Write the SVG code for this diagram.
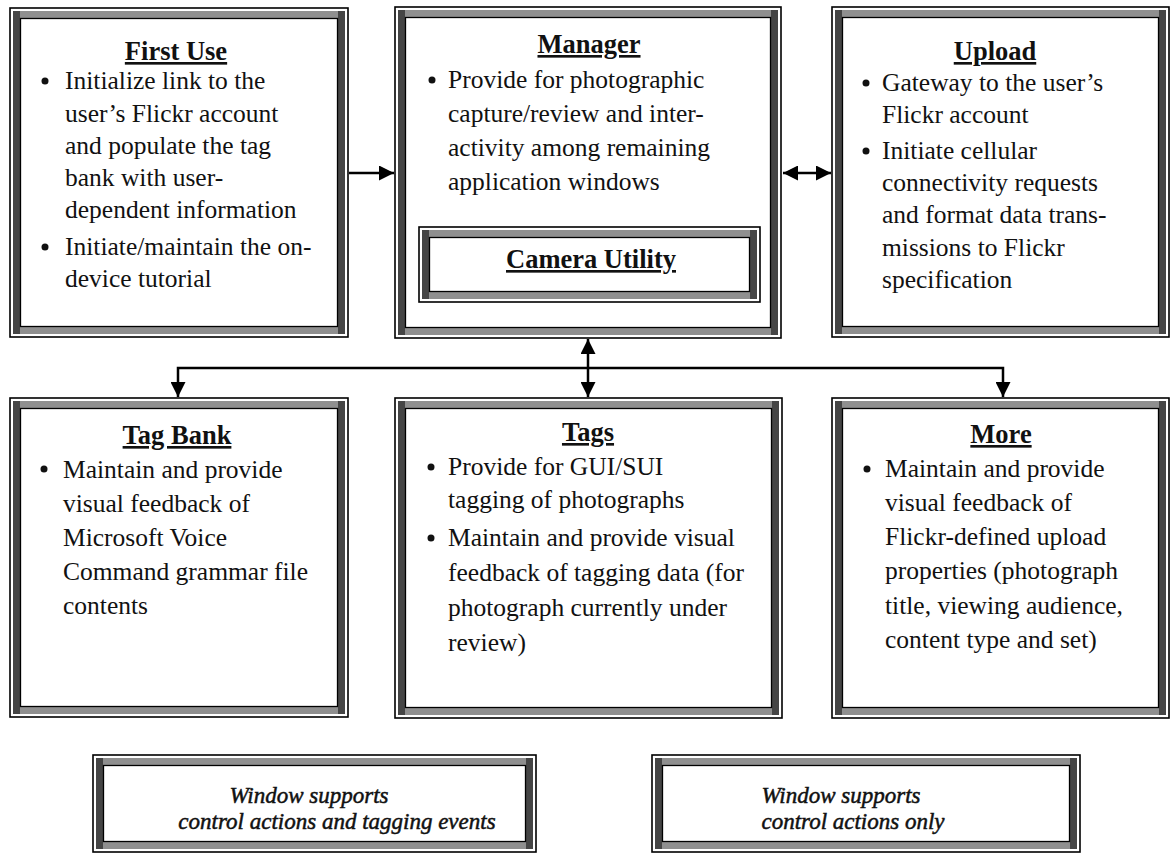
<svg xmlns="http://www.w3.org/2000/svg" width="1172" height="854" viewBox="0 0 1172 854">
<style>
.o{fill:#fff;stroke:#000;stroke-width:1.6}
.tb{fill:none;stroke:#8f8f8f;stroke-width:7}
.sd{fill:#454545}
.in{fill:none;stroke:#000;stroke-width:1.3}
.t{font-family:"Liberation Serif","Times New Roman",serif;font-size:25.5px;fill:#111}
.h{font-weight:bold;font-size:26.5px;text-decoration:underline;text-anchor:middle}
.leg{font-family:"Liberation Serif","Times New Roman",serif;font-style:italic;font-size:23px;text-anchor:middle;fill:#111;stroke:#111;stroke-width:0.5}
.b{fill:#111}
.c{stroke:#000;stroke-width:2.5;fill:none}
</style>
<defs>
<marker id="ah" viewBox="0 0 10 10" refX="10" refY="5" markerWidth="15" markerHeight="15" markerUnits="userSpaceOnUse" orient="auto-start-reverse">
<path d="M0,0 L10,5 L0,10 z" fill="#000"/>
</marker>
</defs>

<g id="connectors">
<path class="c" d="M349,173 H394" marker-end="url(#ah)"/>
<path class="c" d="M783,173 H831" marker-start="url(#ah)" marker-end="url(#ah)"/>
<path class="c" d="M588,339 V397" marker-start="url(#ah)" marker-end="url(#ah)"/>
<path class="c" d="M178,397 V368 H1003 V397" marker-start="url(#ah)" marker-end="url(#ah)"/>
</g>

<g id="firstUse">
<rect class="o" x="10" y="8" width="338" height="329"/>
<rect class="tb" x="16.5" y="14.5" width="325" height="316"/>
<rect class="sd" x="13" y="11" width="7" height="323"/>
<rect class="sd" x="338" y="11" width="7" height="323"/>
<rect class="in" x="20.5" y="18.5" width="317" height="308"/>
<text class="t h" x="176" y="60">First Use</text>
<circle class="b" cx="45" cy="81" r="3.5"/>
<circle class="b" cx="45" cy="247" r="3.5"/>
<text class="t" x="65" y="89">Initialize link to the</text>
<text class="t" x="65" y="122">user’s Flickr account</text>
<text class="t" x="65" y="154">and populate the tag</text>
<text class="t" x="65" y="186">bank with user-</text>
<text class="t" x="65" y="218">dependent information</text>
<text class="t" x="65" y="255">Initiate/maintain the on-</text>
<text class="t" x="65" y="287">device tutorial</text>
</g>

<g id="manager">
<rect class="o" x="395" y="7" width="386" height="331"/>
<rect class="tb" x="401.5" y="13.5" width="373" height="318"/>
<rect class="sd" x="398" y="10" width="7" height="325"/>
<rect class="sd" x="771" y="10" width="7" height="325"/>
<rect class="in" x="405.5" y="17.5" width="365" height="310"/>
<text class="t h" x="589" y="53">Manager</text>
<circle class="b" cx="432" cy="80" r="3.5"/>
<text class="t" x="448" y="88">Provide for photographic</text>
<text class="t" x="448" y="122">capture/review and inter-</text>
<text class="t" x="448" y="156">activity among remaining</text>
<text class="t" x="448" y="190">application windows</text>
</g>

<g id="cameraUtility">
<rect class="o" x="419" y="227" width="341" height="75"/>
<rect class="tb" x="425.5" y="233.5" width="328" height="62"/>
<rect class="sd" x="422" y="230" width="7" height="69"/>
<rect class="sd" x="750" y="230" width="7" height="69"/>
<rect class="in" x="429.5" y="237.5" width="320" height="54"/>
<text class="t h" x="591" y="268">Camera Utility</text>
</g>

<g id="upload">
<rect class="o" x="832" y="7" width="337" height="330"/>
<rect class="tb" x="838.5" y="13.5" width="324" height="317"/>
<rect class="sd" x="835" y="10" width="7" height="324"/>
<rect class="sd" x="1159" y="10" width="7" height="324"/>
<rect class="in" x="842.5" y="17.5" width="316" height="309"/>
<text class="t h" x="995" y="60">Upload</text>
<circle class="b" cx="866" cy="83" r="3.5"/>
<circle class="b" cx="866" cy="151" r="3.5"/>
<text class="t" x="882" y="91">Gateway to the user’s</text>
<text class="t" x="882" y="123">Flickr account</text>
<text class="t" x="882" y="159">Initiate cellular</text>
<text class="t" x="882" y="191">connectivity requests</text>
<text class="t" x="882" y="223">and format data trans-</text>
<text class="t" x="882" y="256">missions to Flickr</text>
<text class="t" x="882" y="288">specification</text>
</g>

<g id="tagBank">
<rect class="o" x="10" y="398" width="338" height="319"/>
<rect class="tb" x="16.5" y="404.5" width="325" height="306"/>
<rect class="sd" x="13" y="401" width="7" height="313"/>
<rect class="sd" x="338" y="401" width="7" height="313"/>
<rect class="in" x="20.5" y="408.5" width="317" height="298"/>
<text class="t h" x="177" y="444">Tag Bank</text>
<circle class="b" cx="44" cy="469" r="3.5"/>
<text class="t" x="63" y="478"> Maintain and provide</text>
<text class="t" x="63" y="512">visual feedback of</text>
<text class="t" x="63" y="546">Microsoft Voice</text>
<text class="t" x="63" y="580">Command grammar file</text>
<text class="t" x="63" y="614">contents</text>
</g>

<g id="tags">
<rect class="o" x="395" y="398" width="387" height="320"/>
<rect class="tb" x="401.5" y="404.5" width="374" height="307"/>
<rect class="sd" x="398" y="401" width="7" height="314"/>
<rect class="sd" x="772" y="401" width="7" height="314"/>
<rect class="in" x="405.5" y="408.5" width="366" height="299"/>
<text class="t h" x="588" y="441">Tags</text>
<circle class="b" cx="431" cy="467" r="3.5"/>
<circle class="b" cx="431" cy="538" r="3.5"/>
<text class="t" x="448" y="475">Provide for GUI/SUI</text>
<text class="t" x="448" y="508">tagging of photographs</text>
<text class="t" x="448" y="546">Maintain and provide visual</text>
<text class="t" x="448" y="581">feedback of tagging data (for</text>
<text class="t" x="448" y="616">photograph currently under</text>
<text class="t" x="448" y="651">review)</text>
</g>

<g id="more">
<rect class="o" x="832" y="398" width="337" height="320"/>
<rect class="tb" x="838.5" y="404.5" width="324" height="307"/>
<rect class="sd" x="835" y="401" width="7" height="314"/>
<rect class="sd" x="1159" y="401" width="7" height="314"/>
<rect class="in" x="842.5" y="408.5" width="316" height="299"/>
<text class="t h" x="1001" y="443">More</text>
<circle class="b" cx="867" cy="469" r="3.5"/>
<text class="t" x="885" y="477"> Maintain and provide</text>
<text class="t" x="885" y="511">visual feedback of</text>
<text class="t" x="885" y="545">Flickr-defined upload</text>
<text class="t" x="885" y="579">properties (photograph</text>
<text class="t" x="885" y="614">title, viewing audience,</text>
<text class="t" x="885" y="648">content type and set)</text>
</g>

<g id="legendTagging">
<rect class="o" x="93" y="755" width="443" height="97"/>
<rect class="tb" x="99.5" y="761.5" width="430" height="84"/>
<rect class="sd" x="96" y="758" width="7" height="91"/>
<rect class="sd" x="526" y="758" width="7" height="91"/>
<rect class="in" x="103.5" y="765.5" width="422" height="76"/>
<text class="leg" x="309" y="803">Window supports</text>
<text class="leg" x="337" y="829">control actions and tagging events</text>
</g>

<g id="legendControl">
<rect class="o" x="652" y="755" width="428" height="97"/>
<rect class="tb" x="658.5" y="761.5" width="415" height="84"/>
<rect class="sd" x="655" y="758" width="7" height="91"/>
<rect class="sd" x="1070" y="758" width="7" height="91"/>
<rect class="in" x="662.5" y="765.5" width="407" height="76"/>
<text class="leg" x="841" y="803">Window supports</text>
<text class="leg" x="853" y="829">control actions only</text>
</g>
</svg>
